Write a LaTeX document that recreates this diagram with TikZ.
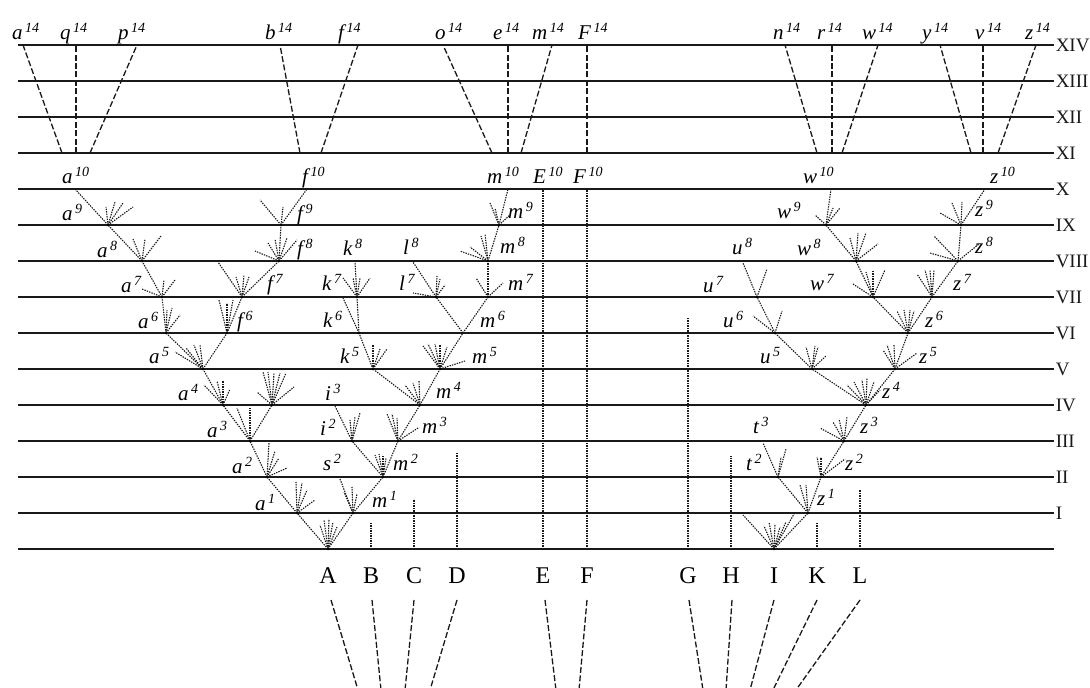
\documentclass[tikz,border=0pt]{standalone}
\usepackage{fontspec}
\setmainfont{Liberation Serif}
\newcommand\lb[2]{#1\kern2.5pt\raisebox{7pt}{\fontsize{14}{14}\selectfont #2}}
\newcommand\fan[2]{\foreach \dx/\dy in {#2}{\draw[ray] (#1) -- ++(\dx,\dy);}}
\begin{document}
\begin{tikzpicture}[x=1pt,y=-1pt,
  hl/.style={line width=1.5pt, black!90},
  ray/.style={line width=1.1pt, black!90, dash pattern=on 1.4pt off 1.1pt},
  dl/.style={line width=1.3pt, black!90, dash pattern=on 6pt off 2.4pt},
  lab/.style={font=\fontsize{21}{22}\selectfont\itshape, inner sep=0pt, anchor=base west},
  rom/.style={font=\fontsize{19}{22}\selectfont, inner sep=0pt, anchor=west},
  capl/.style={font=\fontsize{24}{24}\selectfont, inner sep=0pt},
  fdot/.style={circle, fill=black, inner sep=0pt, minimum size=2.6pt}]
\useasboundingbox (0,0) rectangle (1090,688);

% horizontal generation lines
\foreach \k/\r in {0/XIV,1/XIII,2/XII,3/XI,4/X,5/IX,6/VIII,7/VII,8/VI,9/V,10/IV,11/III,12/II,13/I}{
  \draw[hl] (18,{45+36*\k}) -- (1054,{45+36*\k}) node[rom, xshift=1pt] (r\k) {\r};
}
\draw[hl] (18,549) -- (1054,549);

% base species
\foreach \n/\x in {A/328,B/371,C/414,D/457,E/543,F/587,G/688,H/731,I/774,K/817,L/860}{
  \coordinate (\n) at (\x,549);
  \node[capl] (l\n) at (\x,576) {\n};
}

% simple vertical lines
\coordinate (Bt) at (371,522); \coordinate (Ct) at (414,499);
\coordinate (Dt) at (457,452); \coordinate (E10) at (543,189);
\coordinate (F10) at (587,189); \coordinate (Gt) at (688,317);
\coordinate (Ht) at (731,456); \coordinate (Kt) at (817,522);
\coordinate (Lt) at (860,490);
\foreach \n in {B,C,D,G,H,K,L}{\draw[ray] (\n) -- (\n t);}
\draw[ray] (E) -- (E10); \draw[ray] (F) -- (F10);

% left tree nodes
\coordinate (a1) at (297,513); \coordinate (m1) at (353,513);
\coordinate (a2) at (267,477); \coordinate (m2) at (383,477);
\coordinate (s2e) at (340,479);
\coordinate (a3) at (250,441); \coordinate (i2) at (352,441); \coordinate (m3) at (398,441);
\coordinate (i3e) at (335,406);
\coordinate (a4) at (223,405); \coordinate (x4) at (272,405); \coordinate (m4) at (420,405);
\coordinate (a5) at (203,369); \coordinate (k5) at (373,369); \coordinate (m5) at (440,369);
\coordinate (a6) at (166,333); \coordinate (f6) at (227,333); \coordinate (k6) at (359,333); \coordinate (m6) at (463,333);
\coordinate (a7) at (162,297); \coordinate (f7) at (242,297); \coordinate (k7) at (357,297);
\coordinate (k6e) at (343,298); \coordinate (l7) at (436,297); \coordinate (m7) at (488,297);
\coordinate (a8) at (142,261); \coordinate (f8) at (279,261); \coordinate (f7e) at (218,262);
\coordinate (k8e) at (355,262); \coordinate (l8e) at (413,262); \coordinate (m8) at (488,261);
\coordinate (a9) at (108,225); \coordinate (f9) at (281,225); \coordinate (m9) at (499,225);
\coordinate (a10) at (75,189); \coordinate (f10) at (307,189); \coordinate (m10) at (508,189);

\foreach \p/\q in {A/a1,A/m1,a1/a2,m1/m2,m1/s2e,m2/i2,m2/m3,i2/i3e,m3/m4,a2/a3,a3/a4,a3/x4,
  a4/a5,m4/k5,m4/m5,a5/a6,a5/f6,k5/k6,m5/m6,a6/a7,f6/f7,k6/k7,k6/k6e,m6/l7,m6/m7,
  a7/a8,f7/f8,f7/f7e,k7/k8e,l7/l8e,m7/m8,a8/a9,f8/f9,m8/m9,a9/a10,f9/f10,m9/m10}{
  \draw[ray] (\p) -- (\q);
}

% right tree nodes
\coordinate (z1) at (808,513); \coordinate (Ie) at (743,515);
\coordinate (t2) at (778,477); \coordinate (z2) at (821,477); \coordinate (t3e) at (763,443);
\coordinate (z3) at (844,441); \coordinate (z4) at (866,405);
\coordinate (u5) at (812,369); \coordinate (z5) at (895,369);
\coordinate (u6) at (775,333); \coordinate (z6) at (908,333);
\coordinate (u7) at (757,297); \coordinate (w7) at (873,297); \coordinate (z7) at (932,297);
\coordinate (u8e) at (743,263); \coordinate (u7e) at (767,269);
\coordinate (w8) at (856,261); \coordinate (z8) at (958,261);
\coordinate (w9) at (826,225); \coordinate (z9) at (961,225);
\coordinate (w10) at (831,189); \coordinate (z10) at (985,189);

\foreach \p/\q in {I/z1,I/Ie,z1/t2,z1/z2,t2/t3e,z2/z3,z3/z4,z4/u5,z4/z5,u5/u6,z5/z6,
  u6/u7,u7/u8e,u7/u7e,z6/w7,z6/z7,w7/w8,z7/z8,w8/w9,z8/z9,w9/w10,z9/z10}{
  \draw[ray] (\p) -- (\q);
}

% short rays (fans)
\fan{A}{-8/-24,-4/-29,1/-30,5/-27,9/-22}
\fan{a1}{-1/-31,5/-30,10/-23,18/-13}
\fan{m1}{-9/-21,-1/-26,4/-19}
\fan{m2}{-8/-22,-4/-23,0/-21,3/-19}
\fan{i2}{-2/-21,3/-24,8/-28}
\fan{m3}{-11/-27,-6/-27,-1/-23,20/-13}
\fan{m4}{-15/-20,-7/-22,-1/-24}
\fan{k5}{0/-24,7/-20,14/-20}
\fan{k7}{-14/-19,-4/-19,3/-19,13/-19}
\fan{m5}{-17/-23,-12/-25,-5/-25,0/-24,7/-22,25/-8}
\fan{l7}{-23/-4,1/-21,4/-18,9/-12}
\fan{m7}{-12/-19,15/-14}
\fan{m8}{-28/-10,-18/-14,-7/-25,-3/-27}
\fan{m9}{-9/-22,-4/-17,11/-10}
\fan{a2}{2/-34,8/-26,12/-19,20/-9}
\fan{a3}{-13/-33,0/-33}
\fan{x4}{-15/-13,-9/-33,-4/-33,2/-32,8/-32,14/-32,22/-18}
\fan{a4}{-19/-20,-6/-24,0/-24,7/-16}
\fan{a5}{-28/-17,-17/-21,-9/-24,-3/-24}
\fan{a6}{1/-23,6/-25,14/-18}
\fan{a7}{2/-17,13/-17,-20/-8}
\fan{a8}{-9/-22,3/-22,19/-25}
\fan{a9}{-2/-18,7/-23,15/-22,25/-18}
\fan{f6}{-8/-33,0/-30,6/-33}
\fan{f7}{-6/-20,2/-22,7/-20}
\fan{f8}{-24/-10,-11/-18,-4/-22,8/-23,18/-21}
\fan{f9}{-21/-25,2/-18}
\fan{I}{-10/-23,-5/-27,1/-25,6/-22,12/-27,20/-35}
\fan{z1}{-8/-28,-2/-28}
\fan{t2}{3/-20,8/-28}
\fan{z2}{-4/-20,0/-20,24/-18}
\fan{z3}{-24/-13,-11/-19,-5/-22,3/-24}
\fan{z4}{-19/-20,-12/-23,-4/-25,1/-27,8/-23,14/-15}
\fan{u5}{-6/-22,3/-23,6/-22,14/-13}
\fan{u6}{-22/-17,7/-22}
\fan{z5}{-12/-19,-8/-24,-1/-24,22/-16}
\fan{z6}{-11/-22,-4/-23,2/-23,6/-22}
\fan{w7}{-20/-13,-7/-25,0/-27,12/-27}
\fan{w8}{-6/-23,2/-28,10/-28,22/-17}
\fan{w9}{-11/-10,7/-17,14/-17}
\fan{z7}{-15/-23,-7/-27,-2/-27,2/-27}
\fan{z8}{-24/-25,-28/-8,21/-17}
\fan{z9}{-21/-12,-9/-22,1/-23}

\foreach \n in {A,a1,m1,m2,i2,m3,m4,k5,k6,k7,m5,l7,m7,m8,m9,a2,a3,x4,a4,a5,a6,a7,a8,a9,f6,f7,f8,f9,
  I,z1,t2,z2,z3,z4,u5,u6,u7,z5,z6,w7,w8,w9,z7,z8,z9}{\node[fdot] (d\n) at (\n) {};}

% top dashed lines XI -> XIV
\foreach \n/\xa/\xb in {a/62/23,q/76/76,p/90/137,b/300/280,f/321/358,o/492/443,e/508/508,
  m/521/552,FF/587/587,n/817/785,r/832/832,w/842/878,y/971/940,v/983/983,z/998/1036}{
  \coordinate (\n11) at (\xa,153); \coordinate (\n14) at (\xb,45);
  \draw[dl] (\n11) -- (\n14);
}

% bottom dashed lines
\foreach \n/\xa/\xb in {A/331/358,B/372/381,C/414/405,D/457/430,E/545/556,F/587/579,
  G/689/703,H/732/726,I/774/750,K/817/773,L/860/796}{
  \coordinate (\n u) at (\xa,600); \coordinate (\n v) at (\xb,690);
  \draw[dl] (\n u) -- (\n v);
}

% labels
\foreach \t/\s/\x/\y [count=\i] in {
  a/14/12/39, q/14/60/39, p/14/118/39, b/14/265/39, f/14/338/39, o/14/435/39, e/14/493/39,
  m/14/532/39, F/14/578/39, n/14/773/39, r/14/817/39, w/14/862/39, y/14/922/39, v/14/975/39, z/14/1025/39,
  a/10/62/183, f/10/302/183, m/10/487/183, E/10/533/183, F/10/573/183, w/10/803/183, z/10/990/183,
  a/9/62/220, f/9/297/220, m/9/508/218, w/9/777/218, z/9/975/216,
  a/8/97/257, f/8/297/255, k/8/343/255, l/8/403/254, m/8/500/253, u/8/732/254, w/8/797/255, z/8/975/253,
  a/7/121/292, f/7/267/290, k/7/322/290, l/7/399/290, m/7/508/290, u/7/703/292, w/7/810/290, z/7/953/290,
  a/6/138/328, f/6/237/327, k/6/323/327, m/6/480/327, u/6/723/327, z/6/925/327,
  a/5/149/363, k/5/340/363, m/5/472/363, u/5/760/363, z/5/919/363,
  a/4/178/400, i/3/325/400, m/4/436/398, z/4/882/398,
  a/3/207/437, i/2/320/435, m/3/422/433, t/3/753/433, z/3/860/433,
  a/2/232/473, s/2/323/470, m/2/393/470, t/2/746/470, z/2/845/470,
  a/1/255/510, m/1/372/507, z/1/817/505}{
  \node[lab] (lab\i) at (\x,\y) {\lb{\t}{\s}};
}
\end{tikzpicture}
\end{document}
